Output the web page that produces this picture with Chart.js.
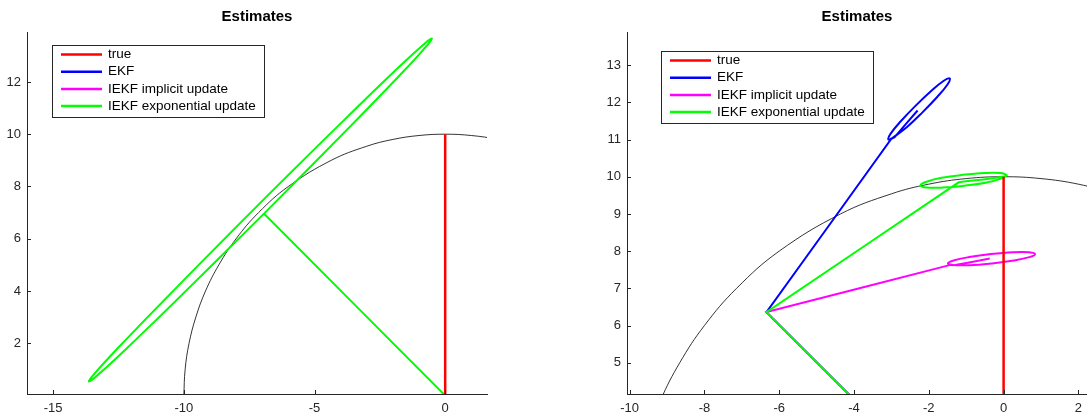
<!DOCTYPE html>
<html>
<head>
<meta charset="utf-8">
<script src="https://cdn.jsdelivr.net/npm/chart.js@4/dist/chart.umd.min.js"></script>
<style>
  html, body { margin: 0; padding: 0; background: #fff; overflow: hidden; }
  .panel { position: absolute; top: 0; height: 419px; }
</style>
</head>
<body>
<div class="panel" style="left:0;width:520px"><canvas id="leftChart"></canvas></div>
<div class="panel" style="left:580px;width:520px"><canvas id="rightChart"></canvas></div>
<script>
var titleText = 'Estimates';
var legendLabels = ['true', 'EKF', 'IEKF implicit update', 'IEKF exponential update'];
var seriesColors = ['#ff0000', '#0000ff', '#ff00ff', '#00ff00'];

// black reference arc (radius 10 around the origin)
var arcX = [-10, -9.95, -9.8, -9.54, -9.17, -8.66, -8, -7.14, -6, -4.36, -3, -2, -1, 0, 1, 2, 3];
var arcY = [0, 1, 2, 3, 4, 5, 6, 7, 8, 9, 9.54, 9.8, 9.95, 10, 9.95, 9.8, 9.54];

// true trajectory
var trueX = [0, 0];
var trueY = [0, 10];

// left panel: all three filters end up on the same long thin loop
var leftExpX = [0, -6.93, -6.93, -3.67, -1.61, -0.69, -0.51, -0.77, -1.78, -3.91, -7.21, -10.47, -12.53, -13.45, -13.63, -13.37, -12.36, -10.23, -6.93];
var leftExpY = [0, 6.96, 6.96, 10.26, 12.39, 13.40, 13.66, 13.48, 12.56, 10.50, 7.24, 3.94, 1.81, 0.80, 0.54, 0.72, 1.64, 3.70, 6.96];

// right panel
var rightEkfX = [0, -6.34, -6.34, -3.0, -3.0, -2.59, -2.17, -1.77, -1.50, -1.44, -1.60, -1.93, -2.35, -2.75, -3.02, -3.08, -2.92, -2.92, -2.3];
var rightEkfY = [0, 6.36, 6.36, 11.02, 11.02, 11.33, 11.73, 12.15, 12.48, 12.64, 12.58, 12.31, 11.91, 11.49, 11.16, 11.0, 11.06, 11.06, 11.78];
var rightImpX = [0, -6.34, -6.34, -1.42, -1.42, -0.90, -0.31, 0.27, 0.69, 0.84, 0.68, 0.25, -0.34, -0.92, -1.34, -1.49, -1.33, -1.33, -0.37];
var rightImpY = [0, 6.36, 6.36, 7.63, 7.63, 7.62, 7.67, 7.75, 7.84, 7.92, 7.97, 7.97, 7.92, 7.84, 7.75, 7.67, 7.62, 7.62, 7.80];
var rightExpX = [0, -6.34, -6.34, -1.2, -1.2, 0.0, 0.08, -0.08, -0.51, -1.09, -1.66, -2.08, -2.22, -2.06, -1.63, -1.05, -0.48, -0.07, 0.08];
var rightExpY = [0, 6.36, 6.36, 9.85, 9.85, 10.0, 10.04, 10.10, 10.10, 10.05, 9.97, 9.86, 9.77, 9.71, 9.71, 9.76, 9.84, 9.95, 10.04];

// axes
var leftXRange = [-16, 1.6];
var leftYRange = [0.06, 13.91];
var leftXTicks = [-15, -10, -5, 0];
var leftYTicks = [2, 4, 6, 8, 10, 12];
var rightXRange = [-10.07, 2.23];
var rightYRange = [4.16, 13.89];
var rightXTicks = [-10, -8, -6, -4, -2, 0, 2];
var rightYTicks = [5, 6, 7, 8, 9, 10, 11, 12, 13];

var FONT = '"Liberation Sans", Arial, sans-serif';

function pts(xs, ys) {
    return xs.map(function(x, i) { return {x: x, y: ys[i]}; });
}

function lineSet(label, xs, ys, color, width, order) {
    return {
        label: label,
        data: pts(xs, ys),
        borderColor: color,
        borderWidth: width,
        showLine: true,
        fill: false,
        pointRadius: 0,
        tension: 0.4,
        order: order
    };
}

function axis(range, ticks, isX, size) {
    return {
        type: 'linear',
        min: range[0],
        max: range[1],
        afterBuildTicks: function(s) { s.ticks = ticks.map(function(v) { return {value: v}; }); },
        afterFit: function(s) { if (isX) s.height = size; else s.width = size; },
        grid: { drawOnChartArea: false, drawTicks: false },
        border: { color: '#262626', width: 1 },
        ticks: { padding: isX ? 7 : 6, color: '#262626', font: { family: FONT, size: 13 } }
    };
}

// MATLAB-ish look: inward ticks, title and boxed legend
var matlabLook = {
    id: 'matlabLook',
    afterDraw: function(chart, args, opts) {
        var ctx = chart.ctx, area = chart.chartArea;
        var xs = chart.scales.x, ys = chart.scales.y;
        ctx.save();
        ctx.strokeStyle = '#262626';
        ctx.lineWidth = 1;
        ctx.beginPath();
        xs.ticks.forEach(function(t) {
            var px = Math.round(xs.getPixelForValue(t.value)) + 0.5;
            ctx.moveTo(px, area.bottom);
            ctx.lineTo(px, area.bottom - 4);
        });
        ys.ticks.forEach(function(t) {
            var py = Math.round(ys.getPixelForValue(t.value)) + 0.5;
            ctx.moveTo(area.left, py);
            ctx.lineTo(area.left + 4, py);
        });
        ctx.stroke();

        ctx.fillStyle = '#000';
        ctx.font = 'bold 15px ' + FONT;
        ctx.textAlign = 'center';
        ctx.textBaseline = 'middle';
        ctx.fillText(titleText, (area.left + area.right) / 2, 17);

        var bx = Math.round(area.left + opts.x), by = Math.round(area.top + opts.y);
        ctx.fillStyle = '#fff';
        ctx.fillRect(bx, by, 212, 72);
        ctx.strokeStyle = '#262626';
        ctx.lineWidth = 1;
        ctx.strokeRect(bx + 0.5, by + 0.5, 212, 72);
        ctx.font = '13.5px ' + FONT;
        ctx.textAlign = 'left';
        legendLabels.forEach(function(label, i) {
            var ry = by + 9.5 + i * 17.2;
            ctx.strokeStyle = seriesColors[i];
            ctx.lineWidth = 2.5;
            ctx.beginPath();
            ctx.moveTo(bx + 9, ry);
            ctx.lineTo(bx + 50, ry);
            ctx.stroke();
            ctx.fillStyle = '#000';
            ctx.fillText(label, bx + 56, ry);
        });
        ctx.restore();
    }
};

function makeChart(id, datasets, xRange, yRange, xTicks, yTicks, yWidth, padRight, legendPos) {
    return new Chart(document.getElementById(id).getContext('2d'), {
        type: 'scatter',
        data: { datasets: datasets },
        plugins: [matlabLook],
        options: {
            responsive: true,
            maintainAspectRatio: false,
            animation: false,
            events: [],
            layout: { padding: { top: 32, right: padRight, left: 0, bottom: 0 } },
            plugins: {
                legend: { display: false },
                tooltip: { enabled: false },
                matlabLook: legendPos
            },
            scales: {
                x: axis(xRange, xTicks, true, 25),
                y: axis(yRange, yTicks, false, yWidth)
            }
        }
    });
}

document.addEventListener('DOMContentLoaded', function() {
    makeChart('leftChart', [
        lineSet(legendLabels[0], trueX, trueY, seriesColors[0], 2.5, 0),
        // EKF and implicit IEKF sit under the green curve here
        lineSet(legendLabels[1], leftExpX, leftExpY, seriesColors[1], 1, 3),
        lineSet(legendLabels[2], leftExpX, leftExpY, seriesColors[2], 1, 2),
        lineSet(legendLabels[3], leftExpX, leftExpY, seriesColors[3], 2, 1),
        lineSet('', arcX, arcY, '#000', 0.8, 4)
    ], leftXRange, leftYRange, leftXTicks, leftYTicks, 27, 33, { x: 25, y: 13 });

    makeChart('rightChart', [
        lineSet(legendLabels[0], trueX, trueY, seriesColors[0], 2.5, 0),
        lineSet(legendLabels[1], rightEkfX, rightEkfY, seriesColors[1], 2, 3),
        lineSet(legendLabels[2], rightImpX, rightImpY, seriesColors[2], 2, 2),
        lineSet(legendLabels[3], rightExpX, rightExpY, seriesColors[3], 2, 1),
        lineSet('', arcX, arcY, '#000', 0.8, 4)
    ], rightXRange, rightYRange, rightXTicks, rightYTicks, 47, 13, { x: 34, y: 19 });
});
</script>
</body>
</html>
